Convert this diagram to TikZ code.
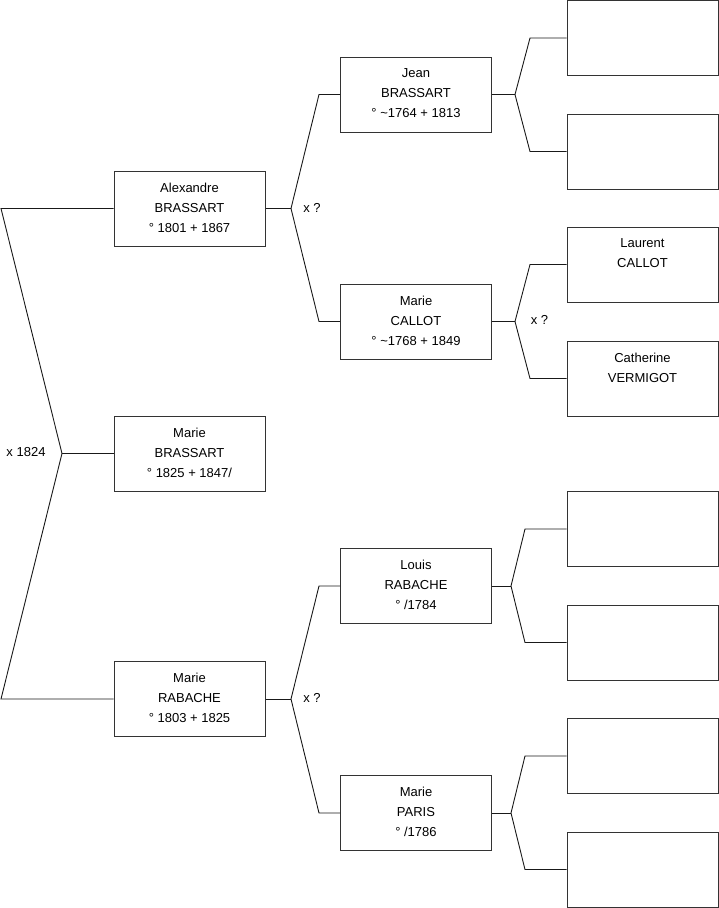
\documentclass[tikz,border=0pt]{standalone}
\usepackage{fontspec}
\setmainfont{Liberation Sans}
\begin{document}
\begin{tikzpicture}[x=1pt,y=-1pt,
  box/.style={draw=black!80,line width=1pt,rectangle,minimum width=151pt,minimum height=75pt,inner sep=0pt},
  txt/.style={anchor=north,align=center,inner sep=0pt,font=\fontsize{13}{20}\selectfont,yshift=-12pt},
  conn/.style={draw=black!90,line width=0.9pt},
  lbl/.style={font=\fontsize{13}{16}\selectfont,inner sep=0pt}]
\useasboundingbox (0,0) rectangle (719,908);
% generation 1
\node[box] (alex) at (189.5,208.5) {};
\node[txt] (alext) at (alex.north) {Alexandre\\BRASSART\\° 1801 + 1867};
\node[box] (mb) at (189.5,453.5) {};
\node[txt] (mbt) at (mb.north) {Marie\\BRASSART\\° 1825 + 1847/};
\node[box] (mr) at (189.5,699) {};
\node[txt] (mrt) at (mr.north) {Marie\\RABACHE\\° 1803 + 1825};
% generation 2
\node[box] (jean) at (416,94.5) {};
\node[txt] (jeant) at (jean.north) {Jean\\BRASSART\\° \textasciitilde1764 + 1813};
\node[box] (mc) at (416,321.5) {};
\node[txt] (mct) at (mc.north) {Marie\\CALLOT\\° \textasciitilde1768 + 1849};
\node[box] (louis) at (416,586) {};
\node[txt] (louist) at (louis.north) {Louis\\RABACHE\\° /1784};
\node[box] (mp) at (416,813) {};
\node[txt] (mpt) at (mp.north) {Marie\\PARIS\\° /1786};
% generation 3
\node[box] (r1) at (642.5,38) {};
\node[box] (r2) at (642.5,151.5) {};
\node[box] (lc) at (642.5,264.5) {};
\node[txt] (lct) at (lc.north) {Laurent\\CALLOT};
\node[box] (cv) at (642.5,378.5) {};
\node[txt] (cvt) at (cv.north) {Catherine\\VERMIGOT};
\node[box] (r5) at (642.5,529) {};
\node[box] (r6) at (642.5,642.5) {};
\node[box] (r7) at (642.5,756) {};
\node[box] (r8) at (642.5,869.5) {};
% vertices
\coordinate (a0) at (1,208.5);
\coordinate (v0) at (62,453.5);
\coordinate (b0) at (1,699);
\coordinate (va) at (291,208.5);
\coordinate (vaT) at (319,94.5);
\coordinate (vaB) at (319,321.5);
\coordinate (vj) at (515,94.5);
\coordinate (vjT) at (530,38);
\coordinate (vjB) at (530,151.5);
\coordinate (vm) at (515,321.5);
\coordinate (vmT) at (530,264.5);
\coordinate (vmB) at (530,378.5);
\coordinate (vr) at (291,699);
\coordinate (vrT) at (319,586);
\coordinate (vrB) at (319,813);
\coordinate (vl) at (511,586);
\coordinate (vlT) at (525,529);
\coordinate (vlB) at (525,642.5);
\coordinate (vp) at (511,813);
\coordinate (vpT) at (525,756);
\coordinate (vpB) at (525,869.5);
% connectors
\draw[conn] (alex.west) -- (a0) -- (v0) -- (b0) -- (mr.west);
\draw[conn] (v0) -- (mb.west);
\draw[conn] (alex.east) -- (va);
\draw[conn] (jean.west) -- (vaT) -- (va) -- (vaB) -- (mc.west);
\draw[conn] (jean.east) -- (vj);
\draw[conn] (r1.west) -- (vjT) -- (vj) -- (vjB) -- (r2.west);
\draw[conn] (mc.east) -- (vm);
\draw[conn] (lc.west) -- (vmT) -- (vm) -- (vmB) -- (cv.west);
\draw[conn] (mr.east) -- (vr);
\draw[conn] (louis.west) -- (vrT) -- (vr) -- (vrB) -- (mp.west);
\draw[conn] (louis.east) -- (vl);
\draw[conn] (r5.west) -- (vlT) -- (vl) -- (vlB) -- (r6.west);
\draw[conn] (mp.east) -- (vp);
\draw[conn] (r7.west) -- (vpT) -- (vp) -- (vpB) -- (r8.west);
% labels
\node[lbl] (m0) at (26,452) {x 1824};
\node[lbl] (m1) at (312,208) {x ?};
\node[lbl] (m2) at (539.5,320) {x ?};
\node[lbl] (m3) at (312,698) {x ?};
\end{tikzpicture}
\end{document}
